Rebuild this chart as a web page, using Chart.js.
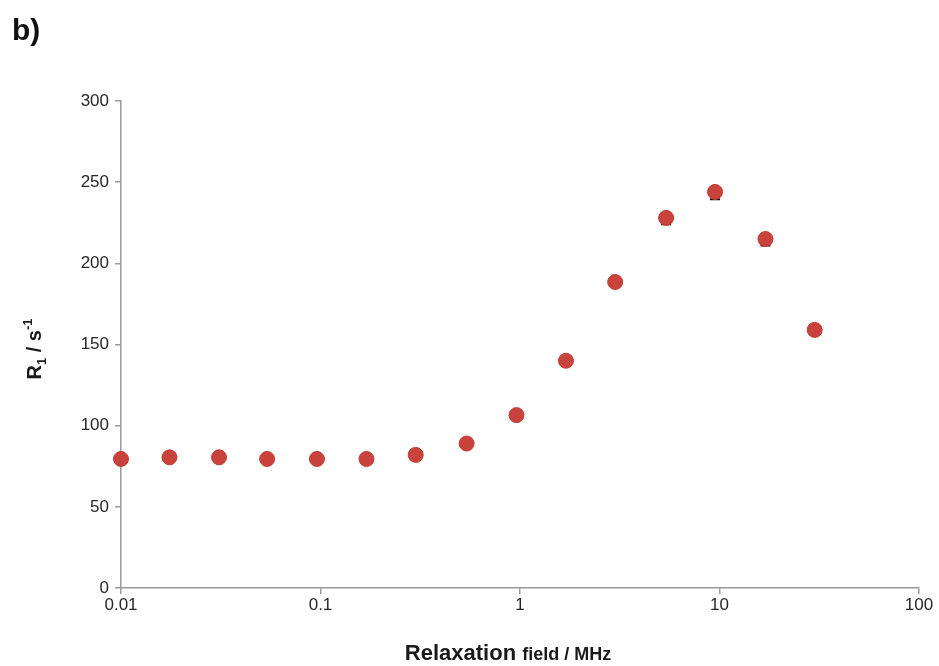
<!DOCTYPE html>
<html>
<head>
<meta charset="utf-8">
<script src="https://cdn.jsdelivr.net/npm/chart.js@4.4.1/dist/chart.umd.min.js"></script>
<style>
  html, body { margin: 0; padding: 0; background: #fff; }
  #wrap { position: relative; width: 939px; height: 666px; }
  #label { position: absolute; left: 12px; top: 13px; font: bold 30px "Liberation Sans", Arial, sans-serif; color: #111; }
</style>
</head>
<body>
<div id="wrap">
  <div id="label">b)</div>
  <canvas id="myChart" width="939" height="666"></canvas>
</div>
<script>
// relaxation field (MHz) and R1 (s^-1)
const fields = [0.01, 0.0175, 0.031, 0.054, 0.096, 0.17, 0.3, 0.54, 0.96, 1.7, 3.0, 5.4, 9.5, 17, 30];
const r1 = [79.5, 80.5, 80.5, 79.5, 79.5, 79.5, 82, 89, 106.5, 140, 188.5, 228, 244, 215, 159];
const r1Low = [null, null, null, null, null, null, null, null, null, null, null, 224, 239.5, 211, null];
const xTicks = [0.01, 0.1, 1, 10, 100];
const yTicks = [0, 50, 100, 150, 200, 250, 300];

const FONT = "'Liberation Sans', Arial, sans-serif";

// small black error caps drawn under the points
const errorBars = {
  id: "errorBars",
  beforeDatasetsDraw(chart) {
    const ctx = chart.ctx;
    const x = chart.scales.x, y = chart.scales.y;
    ctx.save();
    ctx.strokeStyle = "#111";
    ctx.lineWidth = 2;
    fields.forEach((f, i) => {
      if (r1Low[i] == null) return;
      const px = x.getPixelForValue(f);
      const mid = y.getPixelForValue(r1[i]);
      const bot = y.getPixelForValue(r1Low[i]);
      ctx.beginPath();
      ctx.moveTo(px, mid); ctx.lineTo(px, bot);
      ctx.moveTo(px - 5, bot); ctx.lineTo(px + 5, bot);
      ctx.stroke();
    });
    ctx.restore();
  }
};

// axis titles with sub/superscripts and mixed sizes
const axisTitles = {
  id: "axisTitles",
  afterDraw(chart) {
    const ctx = chart.ctx;
    const a = chart.chartArea;
    ctx.save();
    ctx.fillStyle = "#1a1a1a";
    ctx.textBaseline = "alphabetic";

    // x title: "Relaxation field / MHz"
    const big = "bold 22px " + FONT, small = "bold 18px " + FONT;
    ctx.font = big;
    const w1 = ctx.measureText("Relaxation ").width;
    ctx.font = small;
    const w2 = ctx.measureText("field / MHz").width;
    let sx = 508 - (w1 + w2) / 2;
    const by = 660;
    ctx.font = big;
    ctx.fillText("Relaxation ", sx, by);
    ctx.font = small;
    ctx.fillText("field / MHz", sx + w1, by);

    // y title: "R1 / s-1"
    ctx.translate(41, 349);
    ctx.rotate(-Math.PI / 2);
    const main = "bold 20px " + FONT, sub = "bold 13px " + FONT;
    const parts = [
      { t: "R", f: main, dy: 0 },
      { t: "1", f: sub, dy: 5 },
      { t: " / s", f: main, dy: 0 },
      { t: "-1", f: sub, dy: -9 }
    ];
    let total = 0;
    parts.forEach(p => { ctx.font = p.f; p.w = ctx.measureText(p.t).width; total += p.w; });
    let px = -total / 2;
    parts.forEach(p => {
      ctx.font = p.f;
      ctx.fillText(p.t, px, p.dy);
      px += p.w;
    });
    ctx.restore();
  }
};

const ctx = document.getElementById("myChart").getContext("2d");
new Chart(ctx, {
  type: "scatter",
  data: {
    datasets: [{
      label: "R1",
      data: fields.map((f, i) => ({ x: f, y: r1[i] })),
      backgroundColor: "#c9433c",
      borderColor: "#bd3d37",
      borderWidth: 1,
      pointRadius: 7.5,
      pointHoverRadius: 7.5,
      clip: false
    }]
  },
  options: {
    responsive: false,
    animation: false,
    layout: { padding: { left: 0, right: 20, top: 101, bottom: 0 } },
    plugins: { legend: { display: false }, tooltip: { enabled: false } },
    scales: {
      x: {
        type: "logarithmic",
        min: 0.01,
        max: 100,
        afterBuildTicks(scale) { scale.ticks = xTicks.map(v => ({ value: v })); },
        afterFit(scale) { scale.height = 78; },
        grid: { drawOnChartArea: false, color: "#9a9a9a", tickLength: 6, lineWidth: 1.5 },
        border: { color: "#9a9a9a", width: 1.5 },
        ticks: {
          color: "#262626",
          font: { family: FONT, size: 17 },
          padding: 1,
          maxRotation: 0,
          callback: v => String(v)
        }
      },
      y: {
        min: 0,
        max: 300,
        afterBuildTicks(scale) { scale.ticks = yTicks.map(v => ({ value: v })); },
        afterFit(scale) { scale.width = 121; },
        grid: { drawOnChartArea: false, color: "#9a9a9a", tickLength: 6, lineWidth: 1.5 },
        border: { color: "#9a9a9a", width: 1.5 },
        ticks: {
          color: "#262626",
          font: { family: FONT, size: 17 },
          padding: 6
        }
      }
    }
  },
  plugins: [errorBars, axisTitles]
});
</script>
</body>
</html>
